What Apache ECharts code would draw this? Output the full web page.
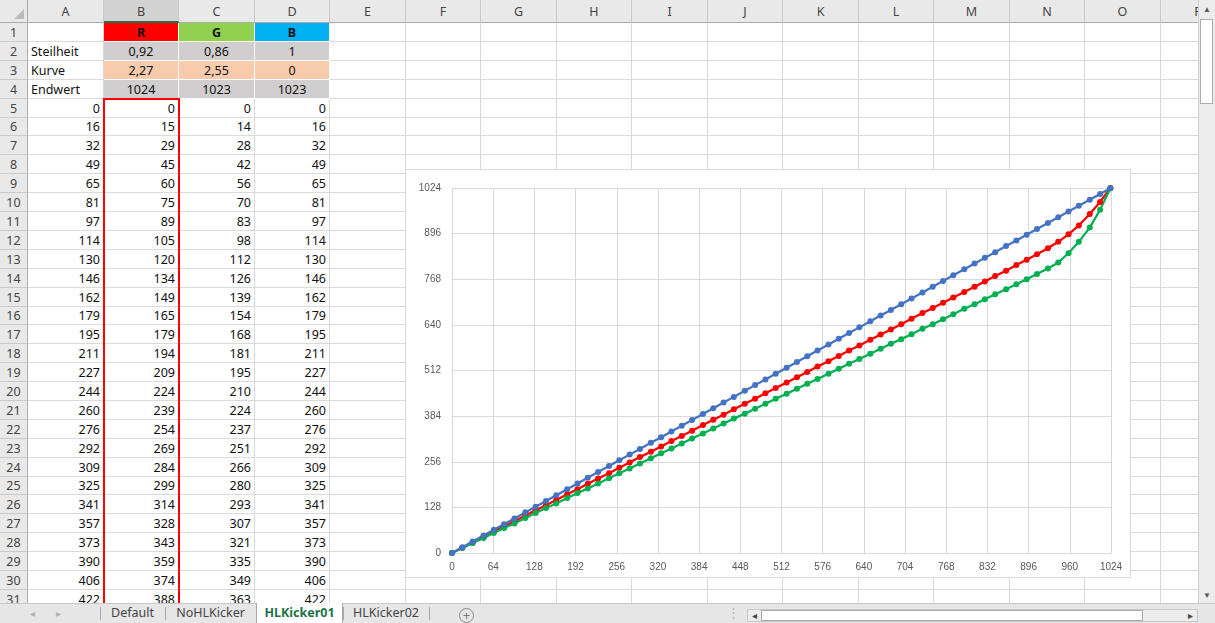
<!DOCTYPE html>
<html>
<head>
<meta charset="utf-8">
<title>HLKicker01</title>
<script src="https://cdn.jsdelivr.net/npm/echarts@6/dist/echarts.min.js"></script>
<style>
  html, body { margin: 0; padding: 0; width: 1215px; height: 623px; overflow: hidden; background: #fff;
    font-family: "Noto Sans", "Liberation Sans", sans-serif; }
  .a { position: absolute; box-sizing: border-box; white-space: nowrap; overflow: hidden; }
  .cell { border-right: 1px solid #dadada; border-bottom: 1px solid #dadada; font-size: 12.5px; color: #111; padding: 0 3px; }
  .hdr { background: #e9e9e9; color: #444; font-size: 12.5px; text-align: center; }
  .colhdr { border-right: 1px solid #c9c9c9; border-bottom: 1px solid #ababab; }
  .rowhdr { border-right: 1px solid #ababab; border-bottom: 1px solid #c9c9c9; }
  #chartBox { position: absolute; left: 405px; top: 169px; width: 726px; height: 409px; box-sizing: border-box;
    border: 1px solid #d9d9d9; background: #fff; }
  #chart { position: absolute; left: 0; top: 0; width: 724px; height: 407px; }
  .tab { font-size: 12.5px; color: #444; text-align: center; line-height: 20px; }
  .sep { background: #a8a8a8; width: 1px; }
</style>
</head>
<body>
<div id="sheet"></div>
<div id="chartBox"><div id="chart"></div></div>
<div id="chrome"></div>
<script>
// Column A: input steps; columns B, C, D: output value per channel
const inputSteps = [0,16,32,49,65,81,97,114,130,146,162,179,195,211,227,244,260,276,292,309,
  325,341,357,373,390,406,422,438,455,471,487,503,520,536,552,568,585,601,617,633,
  650,666,682,698,714,731,747,763,779,796,812,828,844,861,877,893,909,926,942,958,
  974,991,1007,1023];
const redOut = [0,15,29,45,60,75,89,105,120,134,149,165,179,194,209,224,239,254,269,284,
  299,314,328,343,359,374,388,403,419,433,448,463,478,493,508,523,538,553,568,582,
  598,613,627,642,657,673,687,702,717,732,747,762,777,792,808,823,838,855,873,894,
  919,951,985,1024];
const greenOut = [0,14,28,42,56,70,83,98,112,126,139,154,168,181,195,210,224,237,251,266,
  280,293,307,321,335,349,363,377,391,405,419,433,447,461,475,488,503,517,531,544,
  559,573,587,600,614,629,642,656,670,685,698,712,726,740,754,768,783,798,815,841,
  873,913,963,1023];
const blueOut = [0,16,32,49,65,81,97,114,130,146,162,179,195,211,227,244,260,276,292,309,
  325,341,357,373,390,406,422,438,455,471,487,503,520,536,552,568,585,601,617,633,
  650,666,682,698,714,731,747,763,779,796,812,828,844,861,877,893,909,926,942,958,
  974,991,1007,1023];

// Channel parameters (rows 1-4)
const channelNames = ['R', 'G', 'B'];
const channelFill = ['#FF0000', '#92D050', '#00B0F0'];
const steilheit = ['0,92', '0,86', '1'];
const kurve = ['2,27', '2,55', '0'];
const endwert = ['1024', '1023', '1023'];

// Axis scale
const axisMax = 1024;
const xStep = 64;
const yStep = 128;

const sheetTabs = ['Default', 'NoHLKicker', 'HLKicker01', 'HLKicker02'];

// ---------- worksheet grid ----------
const sheet = document.getElementById('sheet');
const COLS = 'ABCDEFGHIJKLMNOP'.split('');
const X0 = 28, CW = 75.5, Y0 = 23, RH = 18.9, NROWS = 31;
const colX = c => Math.round(X0 + c * CW);
const rowY = r => Math.round(Y0 + (r - 1) * RH);

function box(parent, cls, l, t, w, h, text, css) {
  const d = document.createElement('div');
  d.className = 'a ' + cls;
  d.style.left = l + 'px'; d.style.top = t + 'px';
  d.style.width = w + 'px'; d.style.height = h + 'px';
  d.style.lineHeight = h + 'px';
  if (text !== undefined && text !== null) d.textContent = text;
  if (css) Object.assign(d.style, css);
  parent.appendChild(d);
  return d;
}

const rows = [];
rows[1] = ['', ...channelNames];
rows[2] = ['Steilheit', ...steilheit];
rows[3] = ['Kurve', ...kurve];
rows[4] = ['Endwert', ...endwert];
for (let r = 5; r <= NROWS; r++) {
  const i = r - 5;
  rows[r] = [inputSteps[i], redOut[i], greenOut[i], blueOut[i]].map(String);
}

for (let r = 1; r <= NROWS; r++) {
  for (let c = 0; c < COLS.length; c++) {
    const l = colX(c), t = rowY(r);
    const w = colX(c + 1) - l, h = rowY(r + 1) - t;
    const txt = c < 4 ? rows[r][c] : '';
    const css = {};
    if (r <= 4 && c >= 1 && c <= 3) {
      css.textAlign = 'center';
      css.borderRightColor = '#fff'; css.borderBottomColor = '#fff';
      css.background = r === 1 ? channelFill[c - 1] : (r === 3 ? '#F8CBAD' : '#D0CECE');
      if (r === 1) { css.fontWeight = 'bold'; }
    } else if (r >= 5 && c <= 3) {
      css.textAlign = 'right';
    }
    box(sheet, 'cell', l, t, w, h, txt, css);
  }
}

// column headers
for (let c = 0; c < COLS.length; c++) {
  const l = colX(c), w = colX(c + 1) - l;
  const css = c === 1 ? { background: '#d3d3d3', borderBottom: '2px solid #217346' } : {};
  box(sheet, 'hdr colhdr', l, 0, w, Y0, COLS[c], css);
}
// row headers
for (let r = 1; r <= NROWS; r++) {
  const t = rowY(r), h = rowY(r + 1) - t;
  box(sheet, 'hdr rowhdr', 0, t, X0, h, String(r));
}
// corner with select-all triangle
const corner = box(sheet, 'hdr', 0, 0, X0, Y0, '', { borderRight: '1px solid #ababab', borderBottom: '1px solid #ababab' });
const tri = document.createElement('div');
Object.assign(tri.style, { position: 'absolute', right: '3px', bottom: '3px', width: 0, height: 0,
  borderLeft: '10px solid transparent', borderBottom: '10px solid #bdbdbd' });
corner.appendChild(tri);

// red frame around the R output column
box(sheet, '', colX(1) - 1, rowY(5) - 1, colX(2) - colX(1) + 2, 620, '', { border: '2px solid #ff0000' });

// ---------- window chrome: scrollbars and sheet tabs ----------
const chrome = document.getElementById('chrome');
// vertical scrollbar
box(chrome, '', 1198, 0, 17, 603, '', { background: '#ececec', borderLeft: '1px solid #d0d0d0' });
box(chrome, '', 1199, 0, 16, 17, '\u25B2', { fontSize: '8px', color: '#555', textAlign: 'center' });
box(chrome, '', 1200, 19, 13, 85, '', { background: '#fff', border: '1px solid #ababab' });
box(chrome, '', 1199, 586, 16, 17, '\u25BC', { fontSize: '8px', color: '#555', textAlign: 'center' });
// tab bar
box(chrome, '', 0, 603, 1215, 20, '', { background: '#e6e6e6', borderTop: '1px solid #c8c8c8' });
box(chrome, 'tab', 24, 603, 16, 20, '\u25C2', { color: '#b0b0b0', fontSize: '10px' });
box(chrome, 'tab', 50, 603, 16, 20, '\u25B8', { color: '#b0b0b0', fontSize: '10px' });
const tabEdges = [100, 165, 256, 343, 429];
for (let k = 0; k < sheetTabs.length; k++) {
  const l = tabEdges[k], w = tabEdges[k + 1] - l;
  const active = sheetTabs[k] === 'HLKicker01';
  box(chrome, 'tab', l, 603, w, 20, sheetTabs[k], active
    ? { background: '#fff', color: '#217346', fontWeight: 'bold', borderLeft: '1px solid #a8a8a8', borderRight: '1px solid #a8a8a8' }
    : {});
}
for (const x of tabEdges) box(chrome, 'sep', x, 607, 1, 13, '');
// new sheet button
box(chrome, '', 459, 608, 15, 15, '+', { border: '1px solid #8a8a8a', borderRadius: '50%', color: '#777',
  fontSize: '13px', textAlign: 'center', lineHeight: '12px' });
box(chrome, 'tab', 727, 603, 10, 20, '\u22EE', { color: '#b5b5b5' });
// horizontal scrollbar
box(chrome, '', 747, 609, 451, 13, '', { background: '#ececec', border: '1px solid #c8c8c8' });
box(chrome, '', 748, 609, 12, 13, '\u25C2', { fontSize: '10px', color: '#444', textAlign: 'center', lineHeight: '12px' });
box(chrome, '', 761, 610, 382, 11, '', { background: '#fff', border: '1px solid #ababab' });
box(chrome, '', 1184, 609, 13, 13, '\u25B8', { fontSize: '10px', color: '#444', textAlign: 'center', lineHeight: '12px' });

// ---------- chart ----------
const chart = echarts.init(document.getElementById('chart'), null, { renderer: 'canvas' });
const pairs = ys => inputSteps.map((x, i) => [x, ys[i]]);
const curve = (name, ys, color) => ({
  name, type: 'line', data: pairs(ys),
  symbol: 'circle', symbolSize: 6, showSymbol: true,
  lineStyle: { color, width: 2.25 },
  itemStyle: { color, borderWidth: 0 },
  emphasis: { disabled: true }
});
const axisText = { color: '#595959', fontSize: 10, fontFamily: 'Liberation Sans, Arial, sans-serif',
  formatter: v => String(v) };
const gridLine = { show: true, lineStyle: { color: '#d9d9d9', width: 1 } };

chart.setOption({
  animation: false,
  grid: { left: 46, right: 19, top: 18, bottom: 24 },
  xAxis: {
    type: 'value', min: 0, max: axisMax, interval: xStep,
    axisLine: { show: true, lineStyle: { color: '#d9d9d9' } },
    axisTick: { show: false },
    axisLabel: Object.assign({ margin: 9 }, axisText),
    splitLine: gridLine
  },
  yAxis: {
    type: 'value', min: 0, max: axisMax, interval: yStep,
    axisLine: { show: true, lineStyle: { color: '#d9d9d9' } },
    axisTick: { show: false },
    axisLabel: Object.assign({ margin: 11 }, axisText),
    splitLine: gridLine
  },
  series: [
    curve('R', redOut, '#FF0000'),
    curve('G', greenOut, '#00B050'),
    curve('B', blueOut, '#4472C4')
  ]
});
</script>
</body>
</html>
